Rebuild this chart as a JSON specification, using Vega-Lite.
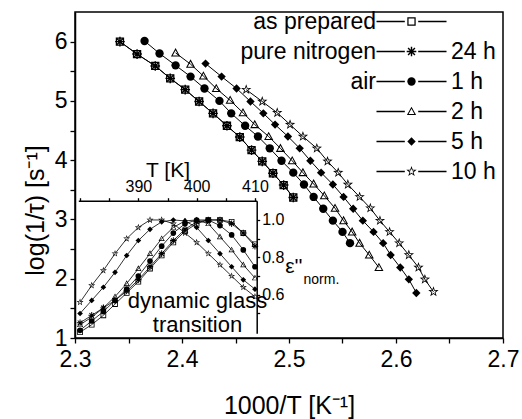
{
  "$schema": "https://vega.github.io/schema/vega-lite/v6.json",
  "width": 428,
  "height": 326,
  "autosize": {"type": "none"},
  "padding": {"left": 75, "top": 12, "right": 19, "bottom": 81},
  "background": "white",
  "config": {
    "font": "Liberation Sans",
    "view": {"stroke": "black", "strokeWidth": 1.5},
    "axis": {"grid": false, "domainColor": "black", "tickColor": "black", "labelColor": "black", "titleColor": "black", "titleFontWeight": "normal", "domainWidth": 1.5, "tickWidth": 1.3, "labelFlush": false, "labelOverlap": false},
    "legend": {"labelFont": "Liberation Sans", "labelColor": "black"}
  },
  "datasets": {
    "main": [
      {"s": "as prepared", "c": "as prepared", "x": 2.342, "y": 6.00},
      {"s": "as prepared", "c": "as prepared", "x": 2.358, "y": 5.79},
      {"s": "as prepared", "c": "as prepared", "x": 2.375, "y": 5.59},
      {"s": "as prepared", "c": "as prepared", "x": 2.389, "y": 5.38},
      {"s": "as prepared", "c": "as prepared", "x": 2.403, "y": 5.19},
      {"s": "as prepared", "c": "as prepared", "x": 2.416, "y": 4.99},
      {"s": "as prepared", "c": "as prepared", "x": 2.429, "y": 4.79},
      {"s": "as prepared", "c": "as prepared", "x": 2.442, "y": 4.58},
      {"s": "as prepared", "c": "as prepared", "x": 2.454, "y": 4.39},
      {"s": "as prepared", "c": "as prepared", "x": 2.465, "y": 4.17},
      {"s": "as prepared", "c": "as prepared", "x": 2.475, "y": 3.98},
      {"s": "as prepared", "c": "as prepared", "x": 2.485, "y": 3.78},
      {"s": "as prepared", "c": "as prepared", "x": 2.495, "y": 3.58},
      {"s": "as prepared", "c": "as prepared", "x": 2.504, "y": 3.37},
      {"s": "24 h", "c": "pure nitrogen, 24 h", "x": 2.342, "y": 6.00},
      {"s": "24 h", "c": "pure nitrogen, 24 h", "x": 2.358, "y": 5.79},
      {"s": "24 h", "c": "pure nitrogen, 24 h", "x": 2.375, "y": 5.59},
      {"s": "24 h", "c": "pure nitrogen, 24 h", "x": 2.389, "y": 5.38},
      {"s": "24 h", "c": "pure nitrogen, 24 h", "x": 2.403, "y": 5.19},
      {"s": "24 h", "c": "pure nitrogen, 24 h", "x": 2.416, "y": 4.99},
      {"s": "24 h", "c": "pure nitrogen, 24 h", "x": 2.429, "y": 4.79},
      {"s": "24 h", "c": "pure nitrogen, 24 h", "x": 2.442, "y": 4.58},
      {"s": "24 h", "c": "pure nitrogen, 24 h", "x": 2.454, "y": 4.39},
      {"s": "24 h", "c": "pure nitrogen, 24 h", "x": 2.465, "y": 4.17},
      {"s": "24 h", "c": "pure nitrogen, 24 h", "x": 2.475, "y": 3.98},
      {"s": "24 h", "c": "pure nitrogen, 24 h", "x": 2.485, "y": 3.78},
      {"s": "24 h", "c": "pure nitrogen, 24 h", "x": 2.495, "y": 3.58},
      {"s": "24 h", "c": "pure nitrogen, 24 h", "x": 2.504, "y": 3.37},
      {"s": "1 h", "c": "air, 1 h", "x": 2.365, "y": 6.01},
      {"s": "1 h", "c": "air, 1 h", "x": 2.379, "y": 5.80},
      {"s": "1 h", "c": "air, 1 h", "x": 2.394, "y": 5.60},
      {"s": "1 h", "c": "air, 1 h", "x": 2.408, "y": 5.41},
      {"s": "1 h", "c": "air, 1 h", "x": 2.421, "y": 5.21},
      {"s": "1 h", "c": "air, 1 h", "x": 2.435, "y": 5.00},
      {"s": "1 h", "c": "air, 1 h", "x": 2.446, "y": 4.79},
      {"s": "1 h", "c": "air, 1 h", "x": 2.459, "y": 4.58},
      {"s": "1 h", "c": "air, 1 h", "x": 2.471, "y": 4.40},
      {"s": "1 h", "c": "air, 1 h", "x": 2.482, "y": 4.20},
      {"s": "1 h", "c": "air, 1 h", "x": 2.493, "y": 3.99},
      {"s": "1 h", "c": "air, 1 h", "x": 2.504, "y": 3.79},
      {"s": "1 h", "c": "air, 1 h", "x": 2.514, "y": 3.59},
      {"s": "1 h", "c": "air, 1 h", "x": 2.523, "y": 3.38},
      {"s": "1 h", "c": "air, 1 h", "x": 2.532, "y": 3.18},
      {"s": "1 h", "c": "air, 1 h", "x": 2.541, "y": 2.98},
      {"s": "1 h", "c": "air, 1 h", "x": 2.550, "y": 2.79},
      {"s": "1 h", "c": "air, 1 h", "x": 2.557, "y": 2.60},
      {"s": "2 h", "c": "air, 2 h", "x": 2.394, "y": 5.81},
      {"s": "2 h", "c": "air, 2 h", "x": 2.408, "y": 5.62},
      {"s": "2 h", "c": "air, 2 h", "x": 2.420, "y": 5.42},
      {"s": "2 h", "c": "air, 2 h", "x": 2.432, "y": 5.21},
      {"s": "2 h", "c": "air, 2 h", "x": 2.445, "y": 5.01},
      {"s": "2 h", "c": "air, 2 h", "x": 2.457, "y": 4.80},
      {"s": "2 h", "c": "air, 2 h", "x": 2.468, "y": 4.60},
      {"s": "2 h", "c": "air, 2 h", "x": 2.481, "y": 4.40},
      {"s": "2 h", "c": "air, 2 h", "x": 2.492, "y": 4.20},
      {"s": "2 h", "c": "air, 2 h", "x": 2.503, "y": 3.99},
      {"s": "2 h", "c": "air, 2 h", "x": 2.513, "y": 3.79},
      {"s": "2 h", "c": "air, 2 h", "x": 2.523, "y": 3.60},
      {"s": "2 h", "c": "air, 2 h", "x": 2.533, "y": 3.40},
      {"s": "2 h", "c": "air, 2 h", "x": 2.543, "y": 3.19},
      {"s": "2 h", "c": "air, 2 h", "x": 2.551, "y": 2.98},
      {"s": "2 h", "c": "air, 2 h", "x": 2.559, "y": 2.79},
      {"s": "2 h", "c": "air, 2 h", "x": 2.566, "y": 2.60},
      {"s": "2 h", "c": "air, 2 h", "x": 2.575, "y": 2.40},
      {"s": "2 h", "c": "air, 2 h", "x": 2.584, "y": 2.19},
      {"s": "5 h", "c": "air, 5 h", "x": 2.422, "y": 5.63},
      {"s": "5 h", "c": "air, 5 h", "x": 2.437, "y": 5.41},
      {"s": "5 h", "c": "air, 5 h", "x": 2.451, "y": 5.21},
      {"s": "5 h", "c": "air, 5 h", "x": 2.464, "y": 4.99},
      {"s": "5 h", "c": "air, 5 h", "x": 2.476, "y": 4.79},
      {"s": "5 h", "c": "air, 5 h", "x": 2.487, "y": 4.60},
      {"s": "5 h", "c": "air, 5 h", "x": 2.499, "y": 4.40},
      {"s": "5 h", "c": "air, 5 h", "x": 2.510, "y": 4.20},
      {"s": "5 h", "c": "air, 5 h", "x": 2.520, "y": 3.99},
      {"s": "5 h", "c": "air, 5 h", "x": 2.530, "y": 3.79},
      {"s": "5 h", "c": "air, 5 h", "x": 2.541, "y": 3.59},
      {"s": "5 h", "c": "air, 5 h", "x": 2.551, "y": 3.38},
      {"s": "5 h", "c": "air, 5 h", "x": 2.560, "y": 3.18},
      {"s": "5 h", "c": "air, 5 h", "x": 2.569, "y": 2.98},
      {"s": "5 h", "c": "air, 5 h", "x": 2.579, "y": 2.79},
      {"s": "5 h", "c": "air, 5 h", "x": 2.588, "y": 2.60},
      {"s": "5 h", "c": "air, 5 h", "x": 2.595, "y": 2.40},
      {"s": "5 h", "c": "air, 5 h", "x": 2.604, "y": 2.19},
      {"s": "5 h", "c": "air, 5 h", "x": 2.612, "y": 1.99},
      {"s": "5 h", "c": "air, 5 h", "x": 2.619, "y": 1.76},
      {"s": "10 h", "c": "air, 10 h", "x": 2.460, "y": 5.19},
      {"s": "10 h", "c": "air, 10 h", "x": 2.475, "y": 4.99},
      {"s": "10 h", "c": "air, 10 h", "x": 2.489, "y": 4.80},
      {"s": "10 h", "c": "air, 10 h", "x": 2.501, "y": 4.60},
      {"s": "10 h", "c": "air, 10 h", "x": 2.513, "y": 4.40},
      {"s": "10 h", "c": "air, 10 h", "x": 2.526, "y": 4.20},
      {"s": "10 h", "c": "air, 10 h", "x": 2.536, "y": 3.98},
      {"s": "10 h", "c": "air, 10 h", "x": 2.546, "y": 3.79},
      {"s": "10 h", "c": "air, 10 h", "x": 2.555, "y": 3.59},
      {"s": "10 h", "c": "air, 10 h", "x": 2.566, "y": 3.38},
      {"s": "10 h", "c": "air, 10 h", "x": 2.576, "y": 3.19},
      {"s": "10 h", "c": "air, 10 h", "x": 2.585, "y": 2.98},
      {"s": "10 h", "c": "air, 10 h", "x": 2.594, "y": 2.79},
      {"s": "10 h", "c": "air, 10 h", "x": 2.603, "y": 2.60},
      {"s": "10 h", "c": "air, 10 h", "x": 2.612, "y": 2.40},
      {"s": "10 h", "c": "air, 10 h", "x": 2.621, "y": 2.19},
      {"s": "10 h", "c": "air, 10 h", "x": 2.627, "y": 1.99},
      {"s": "10 h", "c": "air, 10 h", "x": 2.635, "y": 1.78}
    ],
    "inset": [
      {"s": "as prepared", "T": 380, "e": 0.40}, {"s": "as prepared", "T": 382, "e": 0.44}, {"s": "as prepared", "T": 384, "e": 0.49}, {"s": "as prepared", "T": 386, "e": 0.55},
      {"s": "as prepared", "T": 388, "e": 0.61}, {"s": "as prepared", "T": 390, "e": 0.67}, {"s": "as prepared", "T": 392, "e": 0.74}, {"s": "as prepared", "T": 394, "e": 0.81},
      {"s": "as prepared", "T": 396, "e": 0.88}, {"s": "as prepared", "T": 398, "e": 0.94}, {"s": "as prepared", "T": 400, "e": 0.98}, {"s": "as prepared", "T": 402, "e": 1.00},
      {"s": "as prepared", "T": 404, "e": 1.00}, {"s": "as prepared", "T": 406, "e": 0.99}, {"s": "as prepared", "T": 408, "e": 0.93}, {"s": "as prepared", "T": 410, "e": 0.87},
      {"s": "24 h", "T": 380, "e": 0.45}, {"s": "24 h", "T": 382, "e": 0.49}, {"s": "24 h", "T": 384, "e": 0.53}, {"s": "24 h", "T": 386, "e": 0.57},
      {"s": "24 h", "T": 388, "e": 0.62}, {"s": "24 h", "T": 390, "e": 0.68}, {"s": "24 h", "T": 392, "e": 0.75}, {"s": "24 h", "T": 394, "e": 0.82},
      {"s": "24 h", "T": 396, "e": 0.89}, {"s": "24 h", "T": 398, "e": 0.95}, {"s": "24 h", "T": 400, "e": 0.99}, {"s": "24 h", "T": 402, "e": 1.00},
      {"s": "24 h", "T": 404, "e": 1.00}, {"s": "24 h", "T": 406, "e": 0.98}, {"s": "24 h", "T": 408, "e": 0.93}, {"s": "24 h", "T": 410, "e": 0.86},
      {"s": "1 h", "T": 380, "e": 0.41}, {"s": "1 h", "T": 382, "e": 0.46}, {"s": "1 h", "T": 384, "e": 0.51}, {"s": "1 h", "T": 386, "e": 0.57},
      {"s": "1 h", "T": 388, "e": 0.63}, {"s": "1 h", "T": 390, "e": 0.70}, {"s": "1 h", "T": 392, "e": 0.78}, {"s": "1 h", "T": 394, "e": 0.86},
      {"s": "1 h", "T": 396, "e": 0.93}, {"s": "1 h", "T": 398, "e": 0.98}, {"s": "1 h", "T": 400, "e": 1.00}, {"s": "1 h", "T": 402, "e": 1.00},
      {"s": "1 h", "T": 404, "e": 0.97}, {"s": "1 h", "T": 406, "e": 0.92}, {"s": "1 h", "T": 408, "e": 0.84}, {"s": "1 h", "T": 410, "e": 0.75},
      {"s": "2 h", "T": 380, "e": 0.44}, {"s": "2 h", "T": 382, "e": 0.48}, {"s": "2 h", "T": 384, "e": 0.53}, {"s": "2 h", "T": 386, "e": 0.59},
      {"s": "2 h", "T": 388, "e": 0.66}, {"s": "2 h", "T": 390, "e": 0.74}, {"s": "2 h", "T": 392, "e": 0.82}, {"s": "2 h", "T": 394, "e": 0.90},
      {"s": "2 h", "T": 396, "e": 0.96}, {"s": "2 h", "T": 398, "e": 0.995}, {"s": "2 h", "T": 400, "e": 1.00}, {"s": "2 h", "T": 402, "e": 0.98},
      {"s": "2 h", "T": 404, "e": 0.91}, {"s": "2 h", "T": 406, "e": 0.84}, {"s": "2 h", "T": 408, "e": 0.76}, {"s": "2 h", "T": 410, "e": 0.69},
      {"s": "5 h", "T": 380, "e": 0.50}, {"s": "5 h", "T": 382, "e": 0.57}, {"s": "5 h", "T": 384, "e": 0.64}, {"s": "5 h", "T": 386, "e": 0.72},
      {"s": "5 h", "T": 388, "e": 0.81}, {"s": "5 h", "T": 390, "e": 0.89}, {"s": "5 h", "T": 392, "e": 0.95}, {"s": "5 h", "T": 394, "e": 0.99},
      {"s": "5 h", "T": 396, "e": 1.00}, {"s": "5 h", "T": 398, "e": 0.995}, {"s": "5 h", "T": 400, "e": 0.96}, {"s": "5 h", "T": 402, "e": 0.89},
      {"s": "5 h", "T": 404, "e": 0.82}, {"s": "5 h", "T": 406, "e": 0.75}, {"s": "5 h", "T": 408, "e": 0.68}, {"s": "5 h", "T": 410, "e": 0.63},
      {"s": "10 h", "T": 380, "e": 0.56}, {"s": "10 h", "T": 382, "e": 0.65}, {"s": "10 h", "T": 384, "e": 0.73}, {"s": "10 h", "T": 386, "e": 0.82},
      {"s": "10 h", "T": 388, "e": 0.90}, {"s": "10 h", "T": 390, "e": 0.96}, {"s": "10 h", "T": 392, "e": 1.00}, {"s": "10 h", "T": 394, "e": 1.00},
      {"s": "10 h", "T": 396, "e": 0.98}, {"s": "10 h", "T": 398, "e": 0.93}, {"s": "10 h", "T": 400, "e": 0.88}, {"s": "10 h", "T": 402, "e": 0.82},
      {"s": "10 h", "T": 404, "e": 0.76}, {"s": "10 h", "T": 406, "e": 0.70}, {"s": "10 h", "T": 408, "e": 0.64}, {"s": "10 h", "T": 410, "e": 0.59}
    ]
  },
  "resolve": {"scale": {"x": "independent", "y": "independent"}},
  "layer": [
    {
      "data": {"name": "inset"},
      "encoding": {
        "x": {"field": "T", "type": "quantitative",
          "scale": {"domain": [379.7, 410.3], "range": [3.3, 181.7], "nice": false, "zero": false},
          "axis": {"orient": "top", "offset": -188.7, "values": [380, 385, 390, 395, 400, 405, 410],
            "labelExpr": "datum.value == 390 || datum.value == 400 || datum.value == 410 ? datum.label : ''",
            "tickSize": 3, "labelFontSize": 16, "labelPadding": 3, "title": "T [K]", "titleFontSize": 21, "titleY": -24, "titleBaseline": "alphabetic"}},
        "y": {"field": "e", "type": "quantitative",
          "scale": {"domain": [0.394, 1.103], "range": [321.3, 188.7], "nice": false, "zero": false},
          "axis": {"orient": "right", "offset": -246.3, "values": [0.5, 0.6, 0.7, 0.8, 0.9, 1.0],
            "labelExpr": "abs(datum.value-0.6) < 0.01 || abs(datum.value-0.8) < 0.01 || abs(datum.value-1) < 0.01 ? format(datum.value, '.1f') : ''",
            "tickSize": 3, "labelFontSize": 16, "labelPadding": 2, "title": "ε''", "titleFontSize": 21, "titleAngle": 0, "titleAlign": "left", "titleBaseline": "middle", "titleX": 28, "titleY": 254}}
      },
      "layer": [
        {"data": {"values": [{}]}, "mark": {"type": "rect", "fill": "white", "stroke": "black", "strokeWidth": 1.5},
          "encoding": {
            "x": {"datum": 379.7, "type": "quantitative",
              "axis": {"orient": "bottom", "offset": -4.7, "domain": false, "ticks": false, "labels": false, "grid": false,
                "title": ["dynamic glass", "transition"], "titleFontSize": 22, "titleLineHeight": 24, "titleAlign": "center", "titleBaseline": "top", "titleX": 122, "titleY": -43}},
            "x2": {"datum": 410.3},
            "y": {"datum": 0.394, "type": "quantitative",
              "axis": {"orient": "left", "domain": false, "ticks": false, "labels": false, "grid": false,
                "title": "norm.", "titleFontSize": 14, "titleAngle": 0, "titleAlign": "left", "titleBaseline": "middle", "titleX": 228, "titleY": 267}},
            "y2": {"datum": 1.103}}},
        {"mark": {"type": "line", "strokeWidth": 0.8, "color": "black"},
          "encoding": {"detail": {"field": "s", "type": "nominal"}}},
        {"mark": {"type": "point", "filled": true, "color": "black", "strokeWidth": 0, "opacity": 1, "size": 32},
          "encoding": {
            "x": {"field": "T", "type": "quantitative", "axis": null},
            "y": {"field": "e", "type": "quantitative", "axis": null},
            "shape": {"field": "s", "type": "nominal",
              "legend": {"orient": "none", "legendX": 325, "legendY": -2, "title": null, "padding": 0,
                "symbolSize": 70, "symbolStrokeWidth": 0, "symbolFillColor": "black",
                "labelOffset": 28, "labelFontSize": 23, "rowPadding": 6,
                "labelExpr": "datum.value == 'as prepared' ? ' ' : datum.label"}}}}
      ]
    },
    {
      "data": {"name": "main"},
      "encoding": {
        "x": {"field": "x", "type": "quantitative",
          "scale": {"domain": [2.3, 2.7], "nice": false, "zero": false},
          "axis": {"orient": "bottom", "values": [2.3, 2.35, 2.4, 2.45, 2.5, 2.55, 2.6, 2.65, 2.7],
            "labelExpr": "abs(datum.value*10 - round(datum.value*10)) < 0.01 ? format(datum.value, '.1f') : ''",
            "tickSize": 5,
            "labelFontSize": 23, "labelPadding": 5, "title": "1000/T [K⁻¹]", "titleFontSize": 25, "titlePadding": 22}},
        "y": {"field": "y", "type": "quantitative",
          "scale": {"domain": [1, 6.5], "nice": false, "zero": false},
          "axis": {"orient": "left", "values": [1, 1.5, 2, 2.5, 3, 3.5, 4, 4.5, 5, 5.5, 6],
            "labelExpr": "abs(datum.value - round(datum.value)) < 0.01 ? format(datum.value, 'd') : ''",
            "tickSize": 5,
            "labelFontSize": 23, "labelPadding": 3, "title": "log(1/τ) [s⁻¹]", "titleFontSize": 25, "titlePadding": 6, "titleY": 198}}
      },
      "layer": [
        {"mark": {"type": "line", "strokeWidth": 1},
          "encoding": {"stroke": {"field": "c", "type": "nominal",
            "scale": {"domain": ["as prepared", "pure nitrogen, 24 h", "air, 1 h", "air, 2 h", "air, 5 h", "air, 10 h"], "range": ["black", "black", "black", "black", "black", "black"]},
            "legend": {"orient": "none", "legendX": 325, "legendY": -2, "title": null, "padding": 0,
              "symbolType": "M-8.37,0L-1.6,0M1.6,0L8.37,0", "symbolSize": 70, "symbolStrokeWidth": 1.3,
              "labelAlign": "right", "labelOffset": -47, "labelFontSize": 23, "rowPadding": 6, "labelLimit": 300,
              "labelExpr": "indexof(['air, 2 h', 'air, 5 h', 'air, 10 h'], datum.value) >= 0 ? ' ' : split(datum.value, ',')[0]"}}}},
        {"mark": {"type": "point", "filled": true, "color": "black", "strokeWidth": 0, "opacity": 1, "size": 70},
          "encoding": {
            "shape": {"field": "s", "type": "nominal",
              "scale": {"domain": ["as prepared", "24 h", "1 h", "2 h", "5 h", "10 h"],
                "range": [
                  "M-1,-1L1,-1L1,1L-1,1ZM-0.7,-0.7L-0.7,0.7L0.7,0.7L0.7,-0.7Z",
                  "M-0.17,-1.15L0.17,-1.15L0.17,1.15L-0.17,1.15ZM-1.15,-0.17L1.15,-0.17L1.15,0.17L-1.15,0.17ZM-0.7,-0.94L0.94,0.7L0.7,0.94L-0.94,-0.7ZM-0.94,0.7L0.7,-0.94L0.94,-0.7L-0.7,0.94Z",
                  "circle",
                  "M0,-1.15L1.1,0.85L-1.1,0.85ZM0,-0.644L-0.682,0.596L0.682,0.596Z",
                  "diamond",
                  "M0,-1.3L0.305,-0.421L1.236,-0.402L0.494,0.161L0.764,1.052L0,0.52L-0.764,1.052L-0.494,0.161L-1.236,-0.402L-0.305,-0.421ZM0,-0.715L-0.168,-0.232L-0.68,-0.221L-0.272,0.089L-0.42,0.579L0,0.286L0.42,0.579L0.272,0.089L0.68,-0.221L0.168,-0.232Z"
                ]},
              "legend": {"orient": "none", "legendX": 325, "legendY": -2, "title": null, "padding": 0,
                "symbolSize": 70, "symbolStrokeWidth": 0, "symbolFillColor": "black",
                "labelOffset": 28, "labelFontSize": 23, "rowPadding": 6,
                "labelExpr": "datum.value == 'as prepared' ? ' ' : datum.label"}}
          }}
      ]
    }
  ]
}
